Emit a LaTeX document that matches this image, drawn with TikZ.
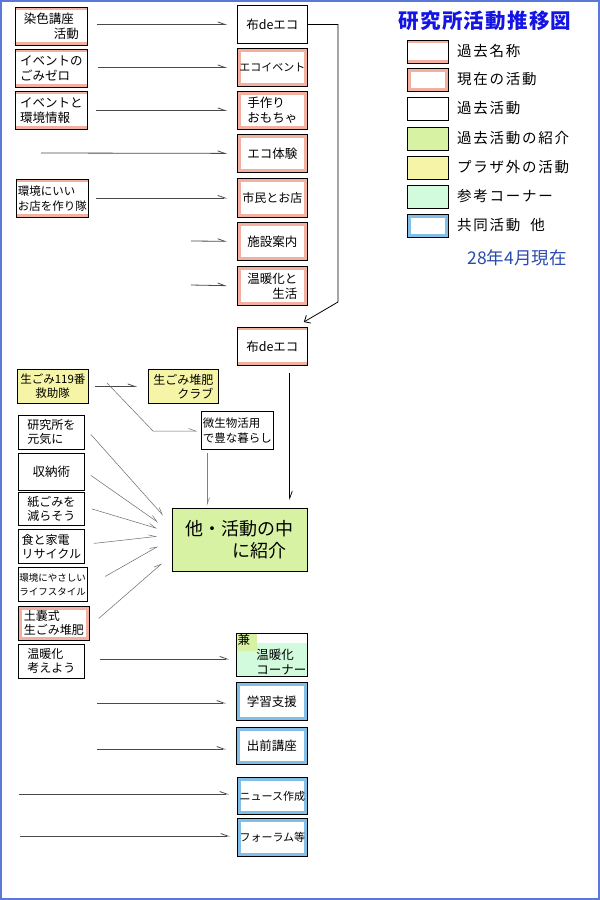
\documentclass[tikz,border=0pt]{standalone}
\usepackage{fontspec}
\setmainfont{Noto Sans CJK JP}
\newfontfamily\legfont[LetterSpace=12]{Noto Sans CJK JP}
\newfontfamily\titlefont[LetterSpace=6]{Noto Sans CJK JP}
\usetikzlibrary{arrows.meta}

\definecolor{pinkc}{HTML}{F2B0A0}
\definecolor{greenc}{HTML}{D6F2A2}
\definecolor{yellowc}{HTML}{F6F4A6}
\definecolor{mintc}{HTML}{D2FADC}
\definecolor{bluec}{HTML}{82BEE6}
\definecolor{framec}{HTML}{5A78D8}
\definecolor{titlec}{HTML}{1414E6}
\definecolor{datec}{HTML}{2A4AAE}
\definecolor{linec}{HTML}{4A4A4A}
\definecolor{fanc}{HTML}{6A6A6A}

% white inside a coloured frame
\newcommand\insetwhite{\fill[white] ([shift={(3.5pt,-3.5pt)}]path picture bounding box.north west)
  rectangle ([shift={(-3.5pt,3.5pt)}]path picture bounding box.south east);}

\tikzset{
  box/.style={draw=black, line width=0.8pt, anchor=north west, inner sep=1pt,
    align=left, font=\fontsize{12.5}{15}\selectfont},
  wh/.style 2 args={minimum width=#1pt, minimum height=#2pt},
  pastname/.style={box, fill=white, path picture={
    \fill[pinkc] (path picture bounding box.north west) rectangle ([yshift=-3pt]path picture bounding box.north east);
    \fill[pinkc] (path picture bounding box.south west) rectangle ([yshift=3.5pt]path picture bounding box.south east);}},
  current/.style={box, fill=pinkc, path picture={\insetwhite}},
  past/.style={box, fill=white},
  intro/.style={box, fill=greenc},
  outside/.style={box, fill=yellowc},
  corner/.style={box, fill=mintc},
  joint/.style={box, fill=bluec, path picture={\insetwhite}},
  arr/.style={draw=linec, line width=0.8pt, shorten >=10pt,
    -{Straight Barb[harpoon,length=7pt,width=5pt]}},
  fan/.style={draw=fanc, line width=0.5pt,
    -{Straight Barb[harpoon,length=7pt,width=5pt]}},
  conn/.style={draw=black, line width=0.8pt, -{Straight Barb[length=5pt,width=9pt]}},
}

\begin{document}
\begin{tikzpicture}[x=1pt,y=-1pt]
\useasboundingbox (0,0) rectangle (600,900);
\fill[white] (0,0) rectangle (600,900);

% Title and legend
\node[font=\titlefont\fontsize{20.5}{24}\selectfont\bfseries, text=titlec] (title) at (485,21) {研究所活動推移図};
\foreach \st/\yy/\txt in {pastname/40/過去名称, current/68/現在の活動, past/97/過去活動,
    intro/127/過去活動の紹介, outside/156/プラザ外の活動, corner/185/参考コーナー, joint/214/共同活動\ \ 他}{
  \node[\st, wh={41}{23}] (leg\yy) at (407,\yy) {};
  \node[anchor=west, font=\legfont\fontsize{14.5}{16}\selectfont, inner sep=0pt] (legtxt\yy) at (457,\yy+11.5) {\txt};
}
\node[font=\fontsize{17.5}{20}\selectfont, text=datec] (date) at (517,258) {28年4月現在};

% Upper column of activities
\node[past, wh={70}{38}, align=center] (nuno) at (237,5) {布deエコ};
\node[current, wh={70}{38}, font=\fontsize{11}{13}\selectfont] (ecoevent) at (237,48) {エコイベント};
\node[current, wh={70}{38}] (tezukuri) at (237,91) {手作り\\おもちゃ};
\node[current, wh={70}{38}] (ecotaiken) at (237,134) {エコ体験};
\node[current, wh={70}{39}, font=\fontsize{12}{15}\selectfont] (shimin) at (237,178) {市民とお店};
\node[current, wh={70}{38}] (shisetsu) at (237,222) {施設案内};
\node[current, wh={70}{39}] (ondanka) at (237,266) {温暖化と\\\hspace*{2em}生活};
\node[pastname, wh={70}{38}] (nuno2) at (237,327) {布deエコ};

% Former names on the left
\node[pastname, wh={72}{38}] (someiro) at (15,7) {染色講座\\\hspace*{2.4em}活動};
\node[pastname, wh={72}{38}] (gomizero) at (15,49) {イベントの\\ごみゼロ};
\node[pastname, wh={72}{38}] (kankyojoho) at (15,91) {イベントと\\環境情報};
\node[pastname, wh={72}{38}, font=\fontsize{11.5}{15}\selectfont] (omise) at (16,179) {環境にいい\\お店を作り隊};

\draw[arr, shorten <=9pt] (someiro.east |- nuno.west) -- (nuno.west);
\draw[arr, shorten <=10pt] (gomizero.east |- ecoevent.west) -- (ecoevent.west);
\draw[arr, shorten <=8pt] (kankyojoho.east |- tezukuri.west) -- (tezukuri.west);
\coordinate (tail4) at (41,153);
\draw[arr] (tail4) -- (ecotaiken.west);
\draw[arr, shorten <=7pt] (omise.east |- shimin.west) -- (shimin.west);
\coordinate (tail6) at (191,241);
\draw[arr] (tail6) -- (shisetsu.west);
\coordinate (tail7) at (191,285);
\draw[arr] (tail7) -- (ondanka.west);

% Line down to the new name
\coordinate (bend) at (338,302);
\draw[conn] (nuno.east) -| (bend) -- ([shift={(-4pt,5pt)}]nuno2.north east);

% Middle part
\node[outside, wh={71}{34}, font=\fontsize{11.5}{14}\selectfont] (k119) at (17,369) {生ごみ119番\\\hspace*{1.3em}救助隊};
\node[outside, wh={70}{34}, font=\fontsize{12}{14}\selectfont] (club) at (148,369) {生ごみ堆肥\\\hspace*{2em}クラブ};
\node[past, wh={72}{38}, font=\fontsize{11.5}{15}\selectfont] (biseibutsu) at (201,411) {微生物活用\\で豊な暮らし};
\node[past, wh={66}{34}, font=\fontsize{12}{14}\selectfont] (genki) at (18,415) {研究所を\\元気に};
\node[past, wh={66}{37}] (shuno) at (18,453) {収納術};
\node[past, wh={66}{33}, font=\fontsize{12}{14}\selectfont] (kamigomi) at (18,492) {紙ごみを\\減らそう};
\node[past, wh={66}{34}, font=\fontsize{12}{14}\selectfont] (kaden) at (18,529) {食と家電\\リサイクル};
\node[past, wh={66}{34}, font=\fontsize{9.5}{14}\selectfont] (lifestyle) at (18,567) {環境にやさしい\\ライフスタイル};
\node[current, wh={71}{34}, font=\fontsize{12}{14}\selectfont] (donou) at (18,606) {土嚢式\\生ごみ堆肥};
\node[past, wh={66}{34}, font=\fontsize{12}{14}\selectfont] (kangaeyou) at (18,644) {温暖化\\考えよう};
\node[intro, wh={135}{63}, font=\fontsize{18}{22}\selectfont] (shokai) at (172,508) {他・活動の中\\\hspace*{2.6em}に紹介};

\draw[arr, shorten <=6pt, shorten >=11pt] (k119.east |- club.west) -- (club.west);
\coordinate (fork) at (107,383);
\coordinate (knee) at (153,431);
\draw[fan, shorten >=4pt] (fork) -- (knee) -- (knee -| biseibutsu.west);
\draw[fan, draw=gray, shorten <=3pt, shorten >=2pt] ([xshift=6pt]biseibutsu.south west) -- ([xshift=6pt]biseibutsu.south west |- shokai.north);
\draw[fan, draw=black, line width=0.7pt, shorten <=7pt, shorten >=8pt] ([xshift=-18pt]nuno2.south east) -- ([xshift=-18pt]nuno2.south east |- shokai.north);

% Fan of lines into the green box
\foreach \src/\sx/\sy/\dx/\dy in {genki/6/-2/-9/24.5, shuno/6/-3.5/-14/17.5, kamigomi/7/0/-15/11.5,
    kaden/9/3/-15/3.5, lifestyle/18/8/-14/-6.5, donou/9/5/-10/-23.5}
  \draw[fan] ([shift={(\sx pt,\sy pt)}]\src.east) -- ([shift={(\dx pt,\dy pt)}]shokai.west);

% Lower column
\node[corner, wh={71}{42}, font=\fontsize{12.5}{15}\selectfont, path picture={
    \fill[white] ([xshift=21pt]path picture bounding box.north west) rectangle ([yshift=-10pt]path picture bounding box.north east);
    \fill[greenc] (path picture bounding box.north west) rectangle ([shift={(21pt,-18pt)}]path picture bounding box.north west);}]
  (kennanka) at (236,633) {兼\\\hspace*{1.5em}温暖化\\\hspace*{1.5em}コーナー};
\node[joint, wh={71}{38}] (gakushu) at (236,682) {学習支援};
\node[joint, wh={71}{37}] (demae) at (236,727) {出前講座};
\node[joint, wh={70}{37}, font=\fontsize{11}{13}\selectfont] (news) at (237,777) {ニュース作成};
\node[joint, wh={70}{38}, font=\fontsize{11}{13}\selectfont] (forum) at (237,818) {フォーラム等};

\draw[arr, shorten <=15pt, shorten >=7pt] ([yshift=-4pt]kennanka.west -| kangaeyou.east) -- ([yshift=-4pt]kennanka.west);
\coordinate (tail10) at (97,703);
\draw[arr] (tail10) -- (tail10 -| gakushu.west);
\coordinate (tail11) at (97,749);
\draw[arr] (tail11) -- (tail11 -| demae.west);
\coordinate (tail12) at (19,794);
\draw[arr, shorten >=8pt] (tail12) -- (tail12 -| news.west);
\coordinate (tail13) at (20,836);
\draw[arr, shorten >=7pt] (tail13) -- (tail13 -| forum.west);

% Frame
\draw[framec, line width=2pt] (1,1) rectangle (599,899);
\end{tikzpicture}
\end{document}
